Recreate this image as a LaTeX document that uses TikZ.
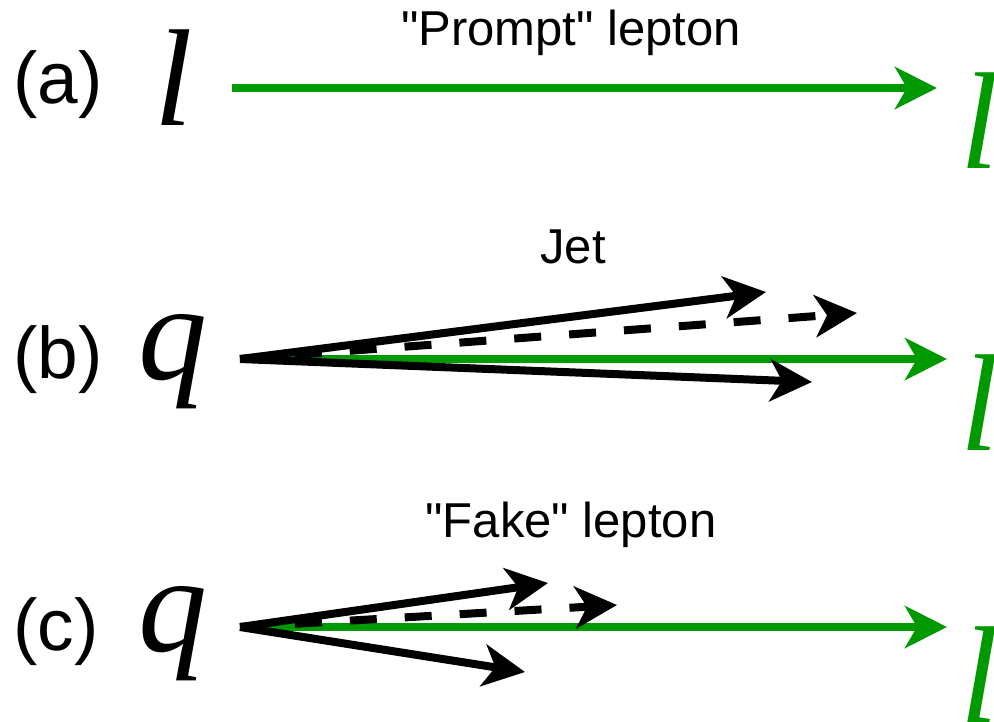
\documentclass[tikz,border=0pt]{standalone}
\usepackage{fontspec}
\setmainfont{Liberation Sans}
\newfontfamily\labelfont{Liberation Sans}
\newfontfamily\serifit{Liberation Serif}
\usetikzlibrary{arrows.meta}
\definecolor{lgreen}{RGB}{0,153,0}
\begin{document}
\begin{tikzpicture}[x=1pt,y=-1pt,
  tipstyle/.style={-{Stealth[length=42pt,width=42pt,inset=12pt]}},
  gline/.style={draw=lgreen, line width=8pt, tipstyle},
  bline/.style={draw=black, line width=8pt, tipstyle},
  dline/.style={bline, dash pattern=on 27pt off 28pt},
  lbl/.style={font=\labelfont\fontsize{49}{58}\selectfont, inner sep=0pt, anchor=base},
  tag/.style={font=\labelfont\fontsize{73}{86}\selectfont, inner sep=0pt, anchor=base west},
  sym/.style={font=\serifit\itshape\fontsize{138}{160}\selectfont, inner sep=0pt, anchor=base west},
  gsym/.style={sym, text=lgreen}]
\useasboundingbox (0,0) rectangle (994,721);
% labels
\node[tag] (ta) at (13,103) {(a)};
\node[tag] (tb) at (13,378) {(b)};
\node[tag] (tc) at (13,650) {(c)};
\node[sym] (la) at (154,125) {l};
\node[sym] (qb) at (138,379) {q};
\node[sym] (qc) at (138,651) {q};
\node[gsym] (ra) at (960,168) {l};
\node[gsym] (rb) at (960,450) {l};
\node[gsym] (rc) at (960,722) {l};
\node[lbl] (prompt) at (571,45) {"Prompt" lepton};
\node[lbl] (jet) at (573,263) {Jet};
\node[lbl] (fake) at (571,537) {"Fake" lepton};
% coordinates
\coordinate (a0) at (232,88);
\coordinate (a1) at (937,88);
\coordinate (b0) at (240,359);
\coordinate (bg) at (947,359);
\coordinate (bt) at (766,292);
\coordinate (bd) at (857,313);
\coordinate (bb) at (812,382);
\coordinate (c0) at (240,627);
\coordinate (cg) at (947,627);
\coordinate (ct) at (548,583);
\coordinate (cd) at (617,605);
\coordinate (cb) at (525,672);
% arrows
\draw[gline] (a0) -- (a1);
\draw[gline] (b0) -- (bg);
\draw[dline] (b0) -- (bd);
\draw[bline] (b0) -- (bt);
\draw[bline] (b0) -- (bb);
\draw[gline] (c0) -- (cg);
\draw[dline] (c0) -- (cd);
\draw[bline] (c0) -- (ct);
\draw[bline] (c0) -- (cb);
\end{tikzpicture}
\end{document}
